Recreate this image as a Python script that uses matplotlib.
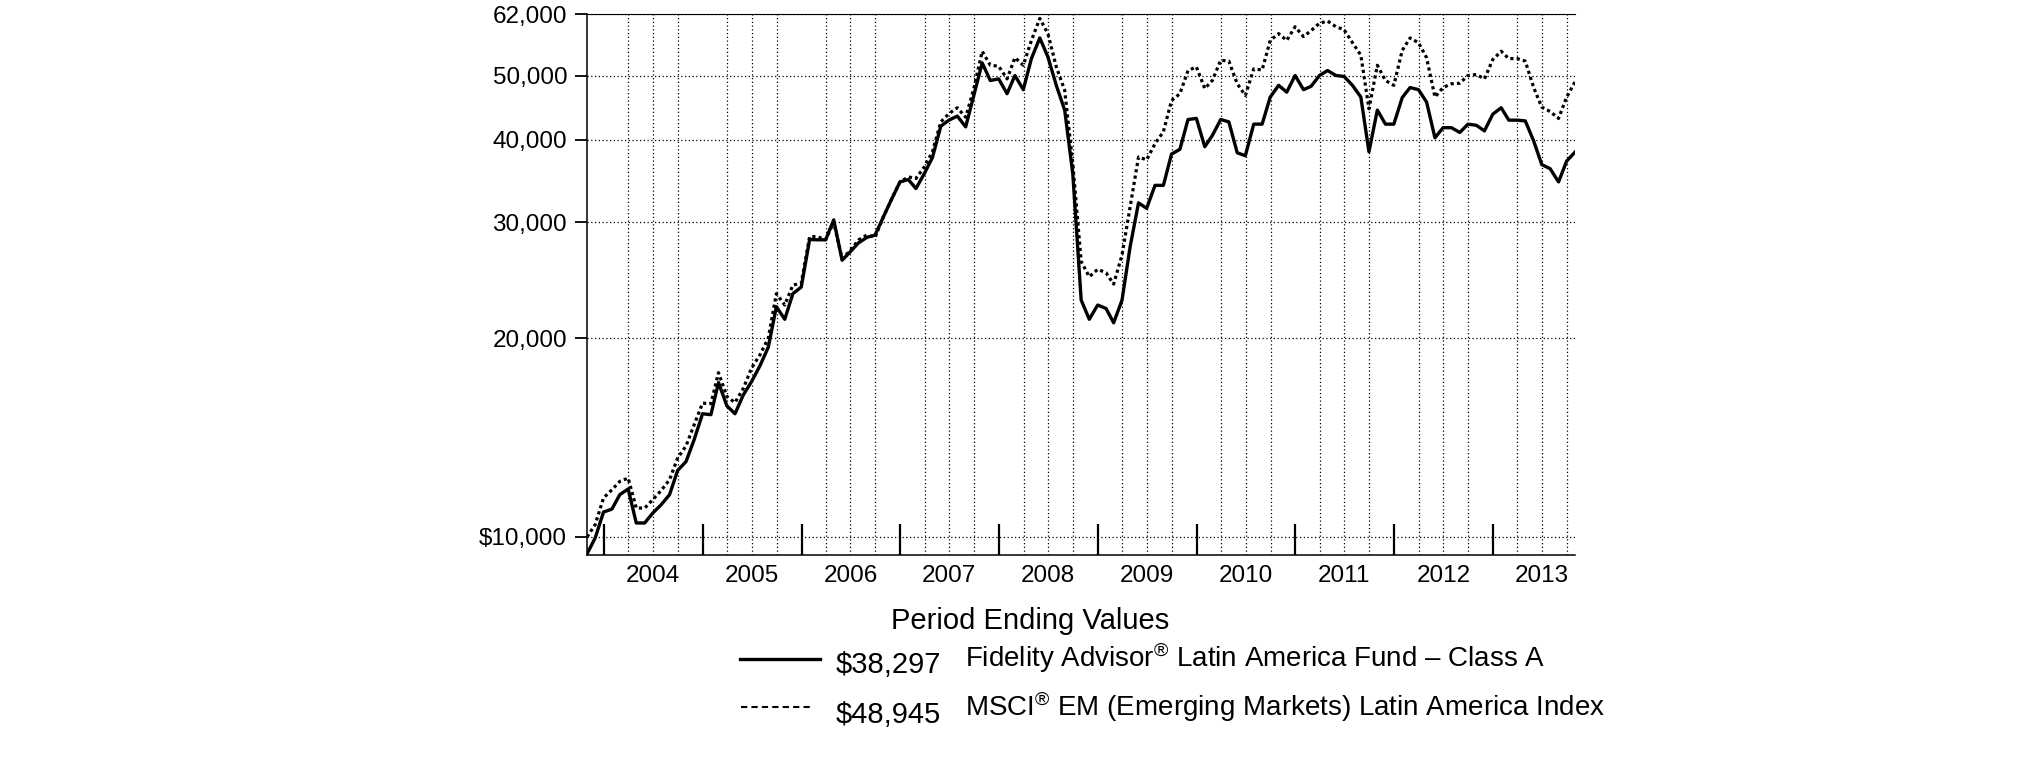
import numpy as np
import pandas as pd
import matplotlib
matplotlib.use("Agg")
from matplotlib import pyplot as plt
from matplotlib import dates as mdates
from matplotlib.lines import Line2D
from matplotlib.ticker import FixedLocator, NullLocator

plt.rcParams['font.family'] = ['Liberation Sans', 'DejaVu Sans']
plt.rcParams['mathtext.fontset'] = 'custom'
plt.rcParams['mathtext.rm'] = 'Liberation Sans'
plt.rcParams['mathtext.it'] = 'Liberation Sans'

# month-end values, Oct 2003 .. Oct 2013
months = pd.date_range('2003-10-31', periods=121, freq='ME')

fund = [9425, 9965, 10910, 11020, 11590, 11820, 10500, 10500, 10870, 11190,
        11590, 12610, 13010, 14040, 15370, 15320, 17140, 15800, 15370, 16420,
        17190, 18160, 19380, 22330, 21370, 23370, 23910, 28230, 28200, 28200,
        30230, 26260, 27040, 27910, 28440, 28670, 30570, 32490, 34510, 34800,
        33720, 35530, 37570, 41920, 42810, 43420, 41820, 46670, 52270, 49160,
        49440, 46950, 50030, 47620, 53070, 57030, 53380, 48340, 44340, 35500,
        22850, 21370, 22460, 22190, 21110, 22850, 27530, 32080, 31470, 34100,
        34100, 38030, 38670, 42910, 43070, 39020, 40590, 42910, 42550, 38200,
        37820, 42220, 42220, 46400, 48340, 47210, 50030, 47620, 48170, 50030,
        50900, 50030, 49860, 48340, 46400, 38340, 44340, 42220, 42220, 46310,
        47970, 47620, 45610, 40250, 41700, 41700, 41010, 42220, 42050, 41240,
        43720, 44700, 42810, 42810, 42700, 39810, 36660, 36140, 34510, 37120,
        38297]

index = [10000, 10440, 11460, 11790, 12140, 12280, 11060, 11060, 11390, 11760,
         12210, 13170, 13740, 14790, 15950, 15920, 17740, 16320, 15980, 16800,
         18020, 18870, 20000, 23370, 22460, 24080, 24240, 28520, 28520, 28200,
         30000, 26400, 27150, 28200, 28670, 28440, 30570, 32490, 34510, 35120,
         34930, 36360, 38340, 42550, 43800, 44700, 43250, 47800, 54440, 51850,
         51670, 49440, 53240, 51850, 56540, 61040, 57900, 51550, 47500, 36800,
         26140, 24790, 25440, 25140, 24160, 26740, 31640, 37650, 37270, 39440,
         41110, 45850, 46950, 50900, 51550, 47800, 49160, 52770, 52600, 48600,
         46670, 51200, 51000, 56540, 57900, 56540, 59300, 57300, 58500, 60030,
         60500, 59300, 58700, 56100, 53700, 44540, 51850, 49160, 48340, 54600,
         57030, 56100, 53240, 46400, 47970, 48600, 48700, 50030, 50200, 49440,
         52900, 54440, 53070, 53070, 52600, 47970, 44800, 44120, 43070, 46400,
         48945]

y_ticks = [10000, 20000, 30000, 40000, 50000, 62000]
y_labels = [r'\$10,000', '20,000', '30,000', '40,000', '50,000', '62,000']
years = [2004, 2005, 2006, 2007, 2008, 2009, 2010, 2011, 2012, 2013]

legend_values = [r'\$38,297', r'\$48,945']
legend_names = [r'Fidelity Advisor$^{®}$ Latin America Fund – Class A',
                r'MSCI$^{®}$ EM (Emerging Markets) Latin America Index']

fig = plt.figure(figsize=(20.25, 7.61), dpi=100)
ax = fig.add_axes([0.2899, 0.2707, 0.4879, 0.7109])

grid_kw = dict(color='black', linewidth=0.9, linestyle=(0, (1, 2)))

ax.plot(months, index, color='black', linewidth=2.3, linestyle=(0, (1, 1)))
ax.plot(months, fund, color='black', linewidth=2.4)

ax.set_yscale('log')
ax.set_ylim(9390, 62000)
ax.set_xlim(months[0], months[-1])

ax.yaxis.set_major_locator(FixedLocator(y_ticks))
ax.yaxis.set_minor_locator(NullLocator())
ax.set_yticklabels(y_labels)
ax.tick_params(axis='y', which='major', length=8.3, width=1.3, pad=6,
               labelsize=17.5, direction='out')

year_starts = mdates.date2num(pd.to_datetime([f'{y}-01-01' for y in years]))
quarters = mdates.date2num(pd.date_range('2004-01-01', '2013-10-01', freq='QS'))
ax.xaxis.set_major_locator(FixedLocator(year_starts))
ax.xaxis.set_minor_locator(FixedLocator(quarters))
ax.tick_params(axis='x', which='major', length=22, width=1.6, direction='in',
               labelbottom=False)
ax.tick_params(axis='x', which='minor', length=0, labelbottom=False)

ax.grid(True, which='major', axis='y', **grid_kw)
ax.grid(True, which='minor', axis='x', **grid_kw)

for y in years:
    mid = mdates.date2num(pd.Timestamp(f'{y}-07-01'))
    ax.text(mid, -0.05, str(y), transform=ax.get_xaxis_transform(),
            ha='center', va='baseline', fontsize=17.5)

ax.spines['right'].set_visible(False)
ax.spines['top'].set_linewidth(0.8)
ax.spines['left'].set_linewidth(1.1)
ax.spines['bottom'].set_linewidth(1.1)

# legend block below the chart
fig.text(0.440, 0.1735, 'Period Ending Values', fontsize=21, va='baseline')
fig.add_artist(Line2D([0.3654, 0.4049], [0.1336, 0.1336], color='black',
                      linewidth=2.4, transform=fig.transFigure))
fig.add_artist(Line2D([0.3657, 0.4008], [0.0714, 0.0714], color='black',
                      linewidth=1.5, linestyle=(0, (3, 2)),
                      transform=fig.transFigure))
fig.text(0.4128, 0.1156, legend_values[0], fontsize=21, va='baseline')
fig.text(0.4128, 0.0503, legend_values[1], fontsize=21, va='baseline')
fig.text(0.4765, 0.1240, legend_names[0], fontsize=20, va='baseline')
fig.text(0.4765, 0.0585, legend_names[1], fontsize=20, va='baseline')

fig.savefig('out.png', dpi=100)
plt.close(fig)
